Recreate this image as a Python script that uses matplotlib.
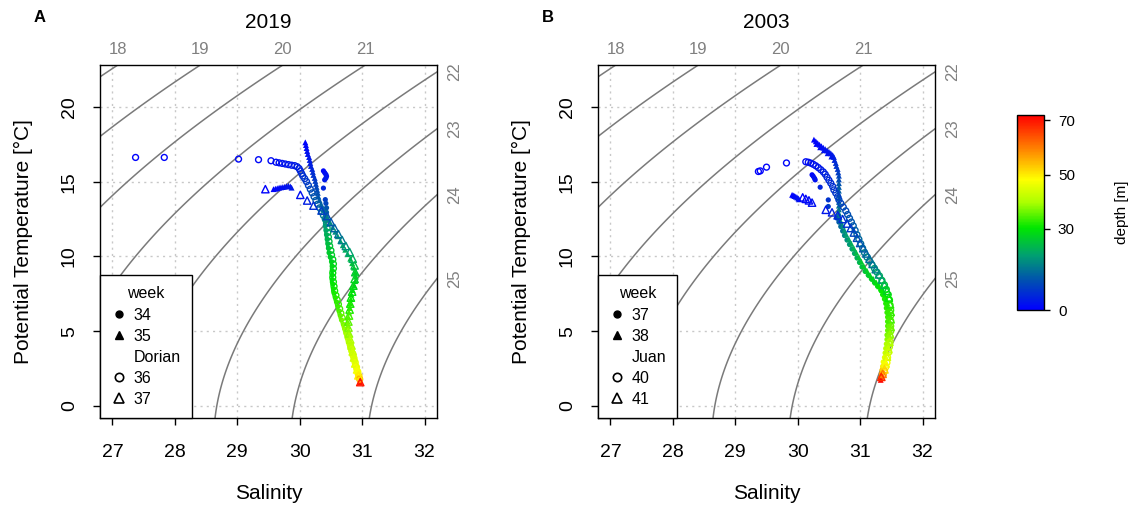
import numpy as np
import matplotlib
matplotlib.use("Agg")
import matplotlib.pyplot as plt
from matplotlib.colors import LinearSegmentedColormap, Normalize
from matplotlib.lines import Line2D
import matplotlib.colorbar as mcb

plt.rcParams['font.family'] = ['Liberation Sans', 'DejaVu Sans']

# ---------------- data: panel A (2019) ----------------
A34_S = [30.38, 30.40, 30.42, 30.43, 30.42, 30.40, 30.38, 30.41, 30.42, 30.43, 30.43, 30.42, 30.41, 30.41,
         30.42, 30.43, 30.44, 30.45, 30.46, 30.47, 30.49, 30.51, 30.52, 30.52, 30.52, 30.52, 30.53, 30.54,
         30.55, 30.57, 30.59, 30.61, 30.63, 30.65, 30.67, 30.70, 30.72, 30.74, 30.76, 30.78, 30.80, 30.82,
         30.84, 30.86, 30.88, 30.90, 30.92, 30.94]
A34_T = [15.72, 15.60, 15.48, 15.36, 15.24, 15.12, 14.57, 13.80, 13.55, 13.25, 12.95, 12.65, 12.35, 12.05,
         11.75, 11.45, 11.15, 10.85, 10.55, 10.25, 9.95, 9.65, 9.35, 9.05, 8.75, 8.45, 8.15, 7.85,
         7.55, 7.25, 6.95, 6.65, 6.35, 6.05, 5.75, 5.45, 5.15, 4.85, 4.55, 4.25, 3.95, 3.65,
         3.35, 3.05, 2.75, 2.45, 2.15, 1.90]
A34_D = [1, 1.5, 2, 2.5, 3, 3.5, 5, 8, 9, 11, 13, 15, 17, 19, 21, 22, 23, 24, 25, 26, 26.5, 27, 28, 28.5,
         29, 29.5, 30, 30.5, 31, 32, 32.5, 33, 34, 35, 36, 37, 38, 39, 40, 41, 42, 43, 44, 45, 46, 47, 49, 52]

A35_S = [30.09, 30.10, 30.11, 30.12, 30.13, 30.15, 30.16, 30.17, 30.18, 30.20, 30.21, 30.22, 30.24, 30.25,
         30.26, 30.27, 30.28, 30.29, 30.30, 30.32, 30.35, 30.38, 30.41, 30.45, 30.49, 30.53, 30.57, 30.61,
         30.65, 30.69, 30.73, 30.77, 30.81, 30.84, 30.87, 30.89, 30.90, 30.89, 30.87, 30.85, 30.83, 30.82,
         30.81, 30.80, 30.79, 30.78, 30.77, 30.77, 30.78, 30.79, 30.80, 30.82, 30.84, 30.86, 30.88, 30.90,
         30.92, 30.94, 30.96, 30.97, 30.97,
         29.58, 29.61, 29.64, 29.67, 29.70, 29.73, 29.76, 29.79, 29.82, 29.85, 29.87]
A35_T = [17.63, 17.45, 17.25, 17.05, 16.85, 16.65, 16.45, 16.25, 16.05, 15.85, 15.65, 15.45, 15.25, 15.05,
         14.85, 14.65, 14.45, 14.25, 14.00, 13.75, 13.45, 13.15, 12.85, 12.55, 12.25, 11.95, 11.65, 11.35,
         11.05, 10.75, 10.45, 10.15, 9.85, 9.55, 9.25, 8.95, 8.65, 8.35, 8.05, 7.75, 7.45, 7.15,
         6.85, 6.55, 6.25, 5.95, 5.65, 5.35, 5.05, 4.75, 4.45, 4.15, 3.85, 3.55, 3.25, 2.95,
         2.65, 2.35, 2.05, 1.75, 1.60,
         14.50, 14.53, 14.56, 14.60, 14.62, 14.64, 14.66, 14.70, 14.72, 14.68, 14.60]
A35_D = [0.5, 1, 1.5, 2, 2.5, 3, 3.5, 4, 4.5, 5, 6, 6.5, 7, 8, 8.5, 9, 10, 10.5, 11, 12, 13, 14, 15, 16,
         17, 17.5, 18, 19, 20, 21, 22, 23, 24, 25, 26, 27, 27.5, 28, 28.5, 29, 30, 31, 32, 33, 34, 35, 36,
         37, 38, 39, 40, 41, 42, 43, 44, 45, 46, 48, 50, 58, 70,
         0.5, 0.8, 1, 1.2, 1.5, 1.8, 2, 2.3, 2.6, 2.9, 3.2]

A36_S = [27.37, 27.83, 29.02, 29.34, 29.54, 29.62, 29.67, 29.72, 29.77, 29.82, 29.87, 29.92, 29.96, 29.99,
         30.01, 30.03, 30.05, 30.08, 30.11, 30.14, 30.17, 30.20, 30.23, 30.26, 30.29, 30.32, 30.35, 30.38,
         30.41, 30.43, 30.44, 30.45, 30.46, 30.47, 30.48, 30.50, 30.51, 30.53, 30.54, 30.54, 30.53, 30.53,
         30.54, 30.55, 30.56, 30.58, 30.60, 30.62, 30.64, 30.66, 30.68, 30.71, 30.73, 30.75, 30.77, 30.79,
         30.81, 30.83, 30.85, 30.87, 30.89, 30.91, 30.93, 30.95, 30.96]
A36_T = [16.62, 16.62, 16.51, 16.47, 16.40, 16.30, 16.26, 16.22, 16.18, 16.14, 16.10, 16.07, 16.00, 15.88,
         15.72, 15.55, 15.38, 15.20, 15.00, 14.75, 14.50, 14.25, 14.00, 13.75, 13.50, 13.25, 13.00, 12.75,
         12.50, 12.20, 11.90, 11.60, 11.30, 11.00, 10.70, 10.40, 10.10, 9.80, 9.50, 9.20, 8.90, 8.60,
         8.30, 8.00, 7.70, 7.40, 7.10, 6.80, 6.50, 6.20, 5.90, 5.60, 5.30, 5.00, 4.70, 4.40,
         4.10, 3.80, 3.50, 3.20, 2.90, 2.60, 2.30, 2.00, 1.80]
A36_D = [0.5, 0.8, 1, 1.2, 1.5, 1.8, 2, 2.3, 2.6, 2.9, 3.2, 3.5, 4, 4.5, 5, 5.5, 6.5, 7, 7.5, 8.5, 9.5,
         10.5, 11, 12, 12.5, 13, 14, 15, 16.5, 19, 20.5, 22, 23, 24, 25, 26, 26.5, 27, 28, 28.5, 29, 29.5,
         30, 30.5, 31, 32, 32.5, 33, 34, 35, 36, 37, 38, 39, 40, 41, 42, 43, 44, 45, 46, 47, 48, 51, 55]

A37_S = [29.45, 30.01, 30.12, 30.22, 30.35, 30.44, 30.50, 30.56, 30.62, 30.68, 30.74, 30.80, 30.85, 30.88,
         30.89, 30.88, 30.86, 30.84, 30.82, 30.81, 30.80, 30.79, 30.78, 30.78, 30.79, 30.81, 30.83, 30.85,
         30.87, 30.89, 30.92, 30.94, 30.97]
A37_T = [14.50, 14.12, 13.74, 13.40, 13.07, 12.70, 12.30, 11.90, 11.50, 11.10, 10.70, 10.30, 9.85, 9.40,
         8.95, 8.50, 8.05, 7.65, 7.25, 6.85, 6.45, 6.05, 5.65, 5.25, 4.85, 4.45, 4.05, 3.65,
         3.25, 2.85, 2.45, 2.05, 1.60]
A37_D = [0.5, 2, 4, 6, 8, 10, 11.5, 13, 14.5, 16, 18, 20, 22, 24, 26, 27, 28, 29, 30, 31, 32, 34, 35, 37,
         38, 40, 41, 43, 44, 45, 47, 50, 70]

# ---------------- data: panel B (2003) ----------------
B37_S = [30.23, 30.25, 30.27, 30.28, 30.36, 30.49, 30.49, 30.63, 30.66, 30.69, 30.72, 30.75, 30.79, 30.83,
         30.87, 30.91, 30.95, 30.99, 31.03, 31.08, 31.13, 31.18, 31.23, 31.28, 31.33, 31.36, 31.39, 31.41,
         31.42, 31.43, 31.44, 31.44, 31.44, 31.44, 31.43, 31.43, 31.42, 31.41, 31.40, 31.39, 31.37, 31.36,
         31.35, 31.34, 31.33]
B37_T = [15.46, 15.35, 15.22, 15.12, 14.63, 13.78, 13.34, 12.56, 12.30, 12.00, 11.70, 11.40, 11.10, 10.80,
         10.50, 10.20, 9.90, 9.60, 9.30, 9.00, 8.75, 8.50, 8.25, 8.00, 7.75, 7.45, 7.15, 6.85,
         6.55, 6.25, 5.95, 5.65, 5.35, 5.05, 4.75, 4.45, 4.15, 3.85, 3.55, 3.25, 2.95, 2.65,
         2.40, 2.15, 1.90]
B37_D = [1, 1.5, 2, 2.5, 5, 7, 8, 10, 12, 14, 15.5, 17, 18, 19, 20, 21, 22, 23, 24, 25, 26, 27, 28, 29,
         30, 31, 31.5, 32, 32.5, 33, 33.5, 34, 35, 36, 37, 38, 40, 41, 43, 45, 47, 50, 53, 58, 66]

B38_S = [30.26, 30.29, 30.32, 30.35, 30.38, 30.41, 30.44, 30.47, 30.50, 30.53, 30.56, 30.58, 30.59, 30.61,
         30.62, 30.64, 30.65, 30.66, 30.66, 30.66, 30.66, 30.66, 30.66, 30.66, 30.66, 30.66, 30.66, 30.66,
         30.67, 30.69, 30.72, 30.75, 30.78, 30.82, 30.86, 30.90, 30.94, 30.98, 31.02, 31.06, 31.11, 31.16,
         31.21, 31.26, 31.31, 31.35, 31.39, 31.42, 31.44, 31.46, 31.47, 31.48, 31.48, 31.48, 31.48, 31.47,
         31.47, 31.46, 31.45, 31.44, 31.42, 31.40, 31.38, 31.36, 31.35, 31.34, 31.33,
         30.30, 30.36, 30.42, 30.48, 30.54,
         29.91, 29.93, 29.95, 29.97, 29.99, 30.01, 30.02]
B38_T = [17.81, 17.70, 17.58, 17.47, 17.37, 17.27, 17.18, 17.09, 17.00, 16.90, 16.78, 16.65, 16.45, 16.25,
         16.05, 15.85, 15.62, 15.40, 15.15, 14.90, 14.65, 14.40, 14.15, 13.90, 13.65, 13.40, 13.15, 12.90,
         12.65, 12.35, 12.05, 11.75, 11.45, 11.15, 10.85, 10.55, 10.25, 9.95, 9.65, 9.35, 9.05, 8.75,
         8.50, 8.25, 8.00, 7.75, 7.45, 7.15, 6.85, 6.55, 6.25, 5.95, 5.65, 5.35, 5.05, 4.75,
         4.45, 4.15, 3.85, 3.55, 3.25, 2.95, 2.65, 2.35, 2.10, 1.90, 1.75,
         17.52, 17.30, 17.10, 16.90, 16.68,
         14.12, 14.08, 14.04, 14.00, 13.95, 13.88, 13.82]
B38_D = [0.5, 0.8, 1, 1.3, 1.6, 2, 2.3, 2.6, 3, 3.3, 3.6, 4, 5, 6, 7, 7.5, 8, 9, 10, 11, 12, 12.5, 13,
         13.5, 14, 14.5, 15, 15.5, 16, 17, 18, 19, 20, 21, 22, 23, 24, 25, 26, 26.5, 27, 27.5, 28, 29, 30,
         30.5, 31, 32, 32.5, 33, 33.5, 34, 35, 36, 37, 38, 39, 40, 42, 44, 46, 48, 51, 55, 60, 66, 72,
         1, 1.5, 2, 2.5, 3,
         0.5, 0.8, 1.1, 1.4, 1.7, 2.1, 2.5]

B40_S = [29.37, 29.40, 29.50, 29.82, 30.13, 30.17, 30.21, 30.25, 30.29, 30.33, 30.37, 30.41, 30.44, 30.47,
         30.50, 30.53, 30.56, 30.58, 30.61, 30.64, 30.66, 30.69, 30.73, 30.77, 30.80, 30.83, 30.86, 30.89,
         30.92, 30.95, 30.98, 31.01, 31.04, 31.07, 31.11, 31.15, 31.19, 31.23, 31.27, 31.31, 31.35, 31.39,
         31.42, 31.45, 31.47, 31.48, 31.49, 31.49, 31.49, 31.49, 31.49, 31.48, 31.48, 31.47, 31.46, 31.44,
         31.43, 31.41, 31.39, 31.37]
B40_T = [15.68, 15.72, 15.97, 16.25, 16.33, 16.30, 16.24, 16.16, 16.06, 15.94, 15.80, 15.65, 15.50, 15.30,
         15.10, 14.90, 14.68, 14.45, 14.24, 14.00, 13.79, 13.55, 13.30, 13.05, 12.80, 12.55, 12.30, 12.05,
         11.75, 11.45, 11.15, 10.85, 10.55, 10.25, 9.95, 9.70, 9.45, 9.20, 8.95, 8.70, 8.40, 8.10,
         7.80, 7.45, 7.10, 6.75, 6.40, 6.05, 5.70, 5.35, 5.00, 4.65, 4.30, 3.95, 3.60, 3.25,
         2.90, 2.60, 2.35, 2.10]
B40_D = [0.3, 0.5, 0.8, 1, 1.5, 1.8, 2.1, 2.4, 2.7, 3, 3.5, 4, 4.5, 5, 5.5, 6, 6.5, 7, 7.5, 8, 8.5, 9,
         9.5, 10, 10.5, 11, 11.5, 12, 12.5, 13, 13.5, 14, 15, 16, 17, 18, 19, 20, 21, 22, 24, 26, 28, 30,
         31, 32, 33, 34, 35, 36, 37, 38, 40, 41, 43, 45, 47, 50, 53, 58]

B41_S = [30.08, 30.13, 30.18, 30.23, 30.45, 30.55, 30.64, 30.72, 30.79, 30.85, 30.90, 30.95, 31.00, 31.05,
         31.10, 31.15, 31.20, 31.25, 31.30, 31.35, 31.39, 31.43, 31.46, 31.48, 31.49, 31.49, 31.49, 31.48,
         31.47, 31.45, 31.43, 31.41, 31.39, 31.36, 31.34]
B41_T = [13.95, 13.85, 13.75, 13.60, 13.12, 12.95, 12.75, 12.50, 12.20, 11.90, 11.60, 11.25, 10.90, 10.55,
         10.20, 9.85, 9.50, 9.15, 8.80, 8.45, 8.10, 7.70, 7.25, 6.80, 6.30, 5.80, 5.30, 4.80,
         4.30, 3.80, 3.30, 2.85, 2.45, 2.15, 1.95]
B41_D = [0.5, 1, 1.5, 2, 3, 4, 5, 6, 7, 8, 9, 10, 11, 12, 13, 14, 15, 16, 18, 21, 24, 27, 30, 32, 33, 34,
         36, 38, 40, 42, 44, 47, 52, 60, 68]

titles = ["2019", "2003"]
panel_letters = ["A", "B"]
weeks_A = ["34", "35", "36", "37"]
weeks_B = ["37", "38", "40", "41"]
storm_names = ["Dorian", "Juan"]
sigma_levels = [18, 19, 20, 21, 22, 23, 24, 25]
depth_ticks = [0, 30, 50, 70]
depth_max = 72

# ---------------- helpers ----------------
def sigma0(S, T):
    rw = (999.842594 + 6.793952e-2 * T - 9.095290e-3 * T**2 + 1.001685e-4 * T**3
          - 1.120083e-6 * T**4 + 6.536332e-9 * T**5)
    A = 8.24493e-1 - 4.0899e-3 * T + 7.6438e-5 * T**2 - 8.2467e-7 * T**3 + 5.3875e-9 * T**4
    B = -5.72466e-3 + 1.0227e-4 * T - 1.6546e-6 * T**2
    C = 4.8314e-4
    return rw + A * S + B * S**1.5 + C * S**2 - 1000.0

cmap = LinearSegmentedColormap.from_list("depth", [
    (0.00, "#0000ff"), (0.15, "#0050b0"), (0.28, "#00a070"), (0.42, "#00e600"),
    (0.55, "#aaff00"), (0.67, "#ffff00"), (0.83, "#ff8000"), (1.00, "#ff0000")])
norm = Normalize(0, depth_max)

fig = plt.figure(figsize=(11.38, 5.14), dpi=100)
W, H = 1138, 514
xlim = (26.8, 32.2)
ylim = (-0.8, 22.8)

panels = [
    dict(left=100, data=[(A34_S, A34_T, A34_D), (A35_S, A35_T, A35_D), (A36_S, A36_T, A36_D), (A37_S, A37_T, A37_D)],
         weeks=weeks_A, storm=storm_names[0]),
    dict(left=598, data=[(B37_S, B37_T, B37_D), (B38_S, B38_T, B38_D), (B40_S, B40_T, B40_D), (B41_S, B41_T, B41_D)],
         weeks=weeks_B, storm=storm_names[1]),
]
styles = [dict(marker='o', filled=True, s=14), dict(marker='^', filled=True, s=18),
          dict(marker='o', filled=False, s=18), dict(marker='^', filled=False, s=28)]

for i, p in enumerate(panels):
    ax = fig.add_axes([p['left'] / W, (H - 418) / H, 337 / W, 353 / H])
    Sg, Tg = np.meshgrid(np.linspace(26.0, 33.0, 300), np.linspace(-2, 24, 300))
    ax.contour(Sg, Tg, sigma0(Sg, Tg), levels=sigma_levels, colors='#7a7a7a', linewidths=1.1, zorder=1)
    for (S, T, D), st in zip(p['data'], styles):
        cols = cmap(norm(np.array(D)))
        if st['filled']:
            ax.scatter(S, T, s=st['s'], marker=st['marker'], c=cols, edgecolors='none', zorder=3)
        else:
            ax.scatter(S, T, s=st['s'], marker=st['marker'], facecolors='none', edgecolors=cols,
                       linewidths=1.0, zorder=3)
    ax.set_xlim(*xlim)
    ax.set_ylim(*ylim)
    ax.set_xticks([27, 28, 29, 30, 31, 32])
    ax.set_yticks([0, 5, 10, 15, 20])
    ax.grid(True, color='#c8c8c8', ls=(0, (1.5, 3)), lw=1.0, zorder=0)
    ax.set_axisbelow(True)
    ax.tick_params(axis='both', direction='out', length=5, width=1, labelsize=14, colors='black')
    ax.tick_params(axis='x', pad=14)
    ax.tick_params(axis='y', pad=11, labelrotation=90)
    for lab in ax.get_yticklabels():
        lab.set_va('center')
    for sp in ax.spines.values():
        sp.set_linewidth(1.0)
    ax.set_xlabel("Salinity", fontsize=15, labelpad=16)
    ax.set_ylabel("Potential Temperature [°C]", fontsize=15, labelpad=20)

    # sigma labels on top and right
    Sfine = np.linspace(xlim[0], xlim[1], 2000)
    Tfine = np.linspace(ylim[0], ylim[1], 2000)
    sig_top = sigma0(Sfine, ylim[1])
    sig_right = sigma0(xlim[1], Tfine)
    for lev in sigma_levels:
        if sig_top.min() <= lev <= sig_top.max():
            s_at = np.interp(lev, sig_top, Sfine)
            ax.annotate(str(lev), xy=(s_at, ylim[1]), xytext=(0, 11), textcoords='offset points',
                        ha='center', va='center', fontsize=12, color='#808080', annotation_clip=False)
        elif sig_right.min() <= lev <= sig_right.max():
            t_at = np.interp(lev, sig_right[::-1], Tfine[::-1])
            ax.annotate(str(lev), xy=(xlim[1], t_at), xytext=(13, 0), textcoords='offset points',
                        ha='center', va='center', fontsize=12, color='#808080', rotation=90,
                        annotation_clip=False)

    # legend
    handles = [Line2D([], [], marker='o', ls='', color='k', markersize=5),
               Line2D([], [], marker='^', ls='', color='k', markersize=6),
               Line2D([], [], ls='', marker=''),
               Line2D([], [], marker='o', ls='', mfc='none', mec='k', markersize=6, mew=1.2),
               Line2D([], [], marker='^', ls='', mfc='none', mec='k', markersize=7, mew=1.2)]
    labels = [p['weeks'][0], p['weeks'][1], p['storm'], p['weeks'][2], p['weeks'][3]]
    leg = ax.legend(handles, labels, title="week", loc='lower left', borderaxespad=0, fancybox=False,
                    edgecolor='black', framealpha=1, fontsize=11.5, title_fontsize=11.5,
                    handlelength=1.0, handletextpad=0.4, labelspacing=0.38, borderpad=0.7)
    leg.get_frame().set_linewidth(1.0)
    leg.set_zorder(5)

    cx = (p['left'] + 168.5) / W
    fig.text(cx, 1 - 22 / H, titles[i], ha='center', va='center', fontsize=15)
    fig.text((40 if i == 0 else 548) / W, 1 - 17 / H, panel_letters[i], ha='center', va='center',
             fontsize=12, fontweight='bold')

# colorbar
cax = fig.add_axes([1017 / W, (H - 310) / H, 27 / W, 195 / H])
cb = mcb.ColorbarBase(cax, cmap=cmap, norm=norm, ticks=depth_ticks)
cb.outline.set_linewidth(1.0)
cax.tick_params(labelsize=11, length=4, width=1, pad=6)
cb.set_label("depth [m]", fontsize=11, labelpad=29)

fig.savefig("out.png", dpi=100)
